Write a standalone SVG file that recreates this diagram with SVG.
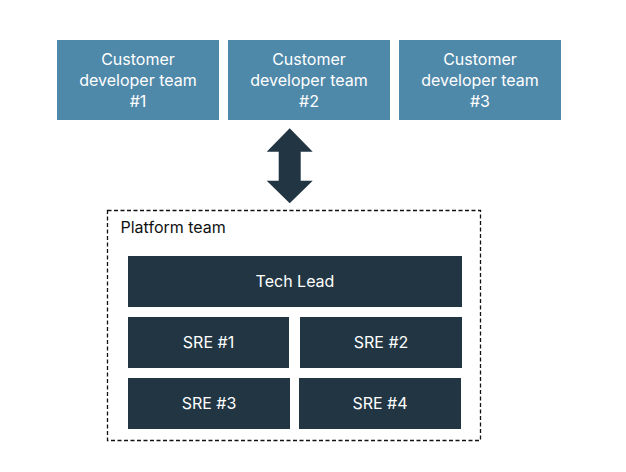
<svg xmlns="http://www.w3.org/2000/svg" width="626" height="472" viewBox="0 0 626 472">
<style>
.cust{fill:#4f89aa}
.dark{fill:#213543}
.lt{font-family:Inter,"Noto Sans","Liberation Sans",sans-serif;font-size:16px;fill:#ffffff;text-anchor:middle}
.lbl{font-family:Inter,"Noto Sans","Liberation Sans",sans-serif;font-size:16px;fill:#111111}
</style>
<rect width="626" height="472" fill="#ffffff"/>
<g id="cust1"><rect class="cust" x="57" y="40" width="162" height="80"/>
<text class="lt" x="138" y="65">Customer</text><text class="lt" x="138" y="86">developer team</text><text class="lt" x="138" y="107">#1</text></g>
<g id="cust2"><rect class="cust" x="228" y="40" width="162" height="80"/>
<text class="lt" x="309" y="65">Customer</text><text class="lt" x="309" y="86">developer team</text><text class="lt" x="309" y="107">#2</text></g>
<g id="cust3"><rect class="cust" x="399" y="40" width="162" height="80"/>
<text class="lt" x="480" y="65">Customer</text><text class="lt" x="480" y="86">developer team</text><text class="lt" x="480" y="107">#3</text></g>
<g id="connectors">
<polygon class="dark" points="289.7,128.3 312.7,151.7 300.7,151.7 300.7,180.7 312.7,180.7 289.7,203.3 266.7,180.7 278.7,180.7 278.7,151.7 266.7,151.7"/>
</g>
<g id="platform">
<rect x="107.5" y="210.5" width="373" height="230" fill="none" stroke="#111111" stroke-width="1.3" stroke-dasharray="4,2.5"/>
<text class="lbl" x="120.5" y="233">Platform team</text>
</g>
<g id="techlead"><rect class="dark" x="128" y="256" width="334" height="51"/><text class="lt" x="295" y="287">Tech Lead</text></g>
<g id="sre1"><rect class="dark" x="128" y="317" width="161" height="51"/><text class="lt" x="208.5" y="348">SRE #1</text></g>
<g id="sre2"><rect class="dark" x="300" y="317" width="162" height="51"/><text class="lt" x="381" y="348">SRE #2</text></g>
<g id="sre3"><rect class="dark" x="128" y="378" width="162" height="51"/><text class="lt" x="209" y="409">SRE #3</text></g>
<g id="sre4"><rect class="dark" x="299" y="378" width="162" height="51"/><text class="lt" x="380" y="409">SRE #4</text></g>
</svg>
